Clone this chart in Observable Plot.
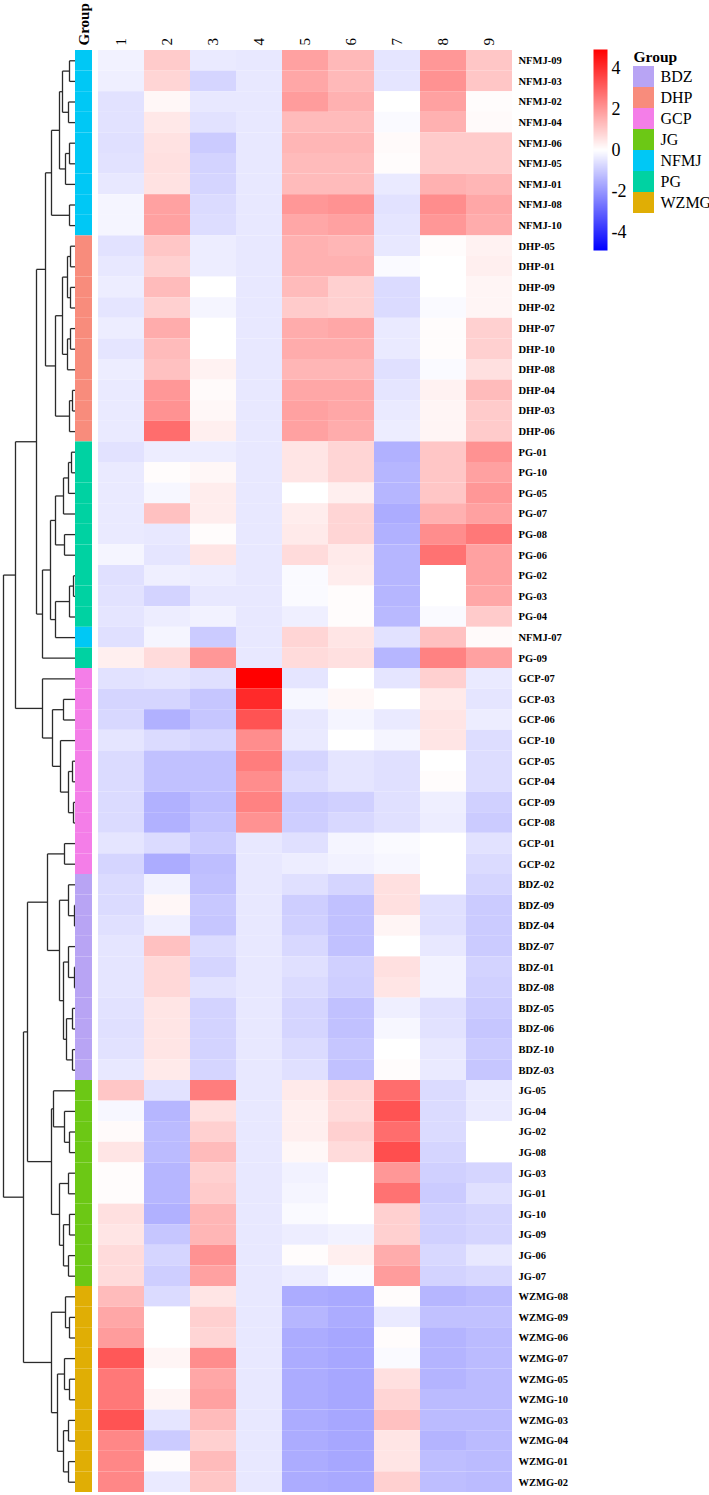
<!DOCTYPE html>
<html>
<head>
<meta charset="utf-8">
<script src="https://cdn.jsdelivr.net/npm/d3@7"></script>
<script src="https://cdn.jsdelivr.net/npm/@observablehq/plot@0.6"></script>
<style>
  body { margin: 0; background: #fff; }
  #chart { position: relative; width: 709px; height: 1495px; font-family: "Liberation Serif", serif; }
  #chart > svg, #chart > figure { position: absolute; top: 0; margin: 0; max-width: none; }
  #chart text { font-family: "Liberation Serif", "Times New Roman", serif; }
</style>
</head>
<body>
<div id="chart"></div>
<script>
// ---- data ---------------------------------------------------------------
const columns = ["1", "2", "3", "4", "5", "6", "7", "8", "9"];

const groupNames = ["BDZ", "DHP", "GCP", "JG", "NFMJ", "PG", "WZMG"];
const groupColors = ["#B8A4F4", "#F88C7C", "#F47EE8", "#6CC815", "#00C8F5", "#00D2A2", "#E0AE05"];

// rows in clustered order, top to bottom
const rowLabels = [
  "NFMJ-09", "NFMJ-03", "NFMJ-02", "NFMJ-04", "NFMJ-06", "NFMJ-05", "NFMJ-01", "NFMJ-08", "NFMJ-10",
  "DHP-05", "DHP-01", "DHP-09", "DHP-02", "DHP-07", "DHP-10", "DHP-08", "DHP-04", "DHP-03", "DHP-06",
  "PG-01", "PG-10", "PG-05", "PG-07", "PG-08", "PG-06", "PG-02", "PG-03", "PG-04", "NFMJ-07", "PG-09",
  "GCP-07", "GCP-03", "GCP-06", "GCP-10", "GCP-05", "GCP-04", "GCP-09", "GCP-08", "GCP-01", "GCP-02",
  "BDZ-02", "BDZ-09", "BDZ-04", "BDZ-07", "BDZ-01", "BDZ-08", "BDZ-05", "BDZ-06", "BDZ-10", "BDZ-03",
  "JG-05", "JG-04", "JG-02", "JG-08", "JG-03", "JG-01", "JG-10", "JG-09", "JG-06", "JG-07",
  "WZMG-08", "WZMG-09", "WZMG-06", "WZMG-07", "WZMG-05", "WZMG-10", "WZMG-03", "WZMG-04", "WZMG-01", "WZMG-02"
];

// scaled values, one row per sample, columns 1..9
const values = [
  [-0.25, 1.0, -0.4, -0.45, 1.8, 1.35, -0.5, 2.0, 1.1],
  [-0.3, 0.8, -0.8, -0.45, 1.7, 1.35, -0.5, 2.1, 1.1],
  [-0.55, 0.15, -0.45, -0.45, 1.9, 1.5, 0.0, 1.8, 0.05],
  [-0.55, 0.45, -0.55, -0.45, 1.3, 1.3, -0.1, 1.5, 0.1],
  [-0.6, 0.55, -1.0, -0.45, 1.4, 1.4, 0.1, 1.0, 1.0],
  [-0.55, 0.6, -0.85, -0.45, 1.3, 1.3, 0.05, 1.0, 1.0],
  [-0.45, 0.55, -0.8, -0.45, 1.3, 1.3, -0.4, 1.5, 1.4],
  [-0.2, 1.8, -0.7, -0.45, 2.0, 2.1, -0.55, 2.2, 1.7],
  [-0.2, 1.8, -0.65, -0.45, 1.7, 1.8, -0.5, 2.0, 1.6],

  [-0.55, 1.1, -0.35, -0.45, 1.5, 1.4, -0.45, 0.05, 0.25],
  [-0.45, 0.9, -0.35, -0.45, 1.5, 1.5, -0.1, 0.0, 0.3],
  [-0.35, 1.3, 0.0, -0.45, 1.3, 0.9, -0.7, 0.0, 0.2],
  [-0.5, 0.9, -0.2, -0.45, 1.0, 0.9, -0.7, -0.1, 0.2],
  [-0.35, 1.6, 0.0, -0.45, 1.6, 1.7, -0.4, 0.05, 0.9],
  [-0.5, 1.3, 0.0, -0.45, 1.6, 1.6, -0.4, 0.05, 0.9],
  [-0.35, 1.2, 0.25, -0.45, 1.4, 1.4, -0.6, -0.1, 0.6],
  [-0.4, 2.0, 0.1, -0.45, 1.7, 1.7, -0.5, 0.25, 1.3],
  [-0.4, 2.1, 0.15, -0.45, 1.8, 1.7, -0.4, 0.2, 1.0],
  [-0.4, 2.8, 0.3, -0.45, 1.8, 1.6, -0.35, 0.2, 1.0],

  [-0.55, -0.35, -0.35, -0.45, 0.5, 0.8, -1.5, 1.1, 2.1],
  [-0.4, 0.05, 0.15, -0.45, 0.5, 0.8, -1.4, 1.1, 1.8],
  [-0.4, -0.15, 0.35, -0.45, 0.0, 0.3, -1.4, 1.1, 2.0],
  [-0.4, 1.2, 0.35, -0.45, 0.35, 0.8, -1.6, 1.5, 1.8],
  [-0.4, -0.45, 0.05, -0.45, 0.4, 0.8, -1.5, 2.2, 2.6],
  [-0.2, -0.5, 0.5, -0.45, 0.7, 0.4, -1.4, 2.7, 1.8],
  [-0.6, -0.3, -0.35, -0.45, -0.1, 0.35, -1.4, 0.0, 1.8],
  [-0.55, -0.85, -0.45, -0.45, -0.1, 0.05, -1.4, 0.0, 1.7],
  [-0.5, -0.35, -0.25, -0.45, -0.3, 0.05, -1.35, -0.1, 1.0],
  [-0.6, -0.2, -1.0, -0.45, 0.8, 0.5, -0.55, 1.2, 0.1],
  [0.3, 0.7, 2.0, -0.45, 0.7, 0.6, -1.4, 2.4, 1.8],

  [-0.55, -0.5, -0.6, 4.9, -0.5, 0.0, -0.5, 0.9, -0.4],
  [-0.8, -0.8, -1.1, 4.1, -0.15, 0.15, 0.0, 0.4, -0.5],
  [-0.75, -1.5, -1.1, 3.3, -0.45, -0.2, -0.4, 0.5, -0.35],
  [-0.5, -0.7, -0.8, 2.2, -0.4, 0.0, -0.2, 0.5, -0.65],
  [-0.7, -1.2, -1.2, 2.5, -0.8, -0.5, -0.6, 0.0, -0.65],
  [-0.7, -1.2, -1.2, 2.2, -0.7, -0.5, -0.6, 0.05, -0.65],
  [-0.7, -1.5, -1.25, 2.4, -1.0, -0.9, -0.6, -0.3, -0.9],
  [-0.7, -1.5, -1.15, 2.1, -0.95, -0.75, -0.6, -0.35, -1.0],
  [-0.5, -0.7, -1.0, -0.45, -0.6, -0.2, -0.1, 0.0, -0.55],
  [-0.8, -1.6, -1.25, -0.45, -0.35, -0.25, -0.15, 0.0, -0.7],

  [-0.7, -0.25, -1.2, -0.45, -0.6, -0.8, 0.6, 0.0, -0.8],
  [-0.7, 0.15, -1.05, -0.45, -0.95, -1.2, 0.6, -0.6, -1.0],
  [-0.6, -0.3, -1.1, -0.45, -0.9, -1.2, 0.2, -0.6, -1.0],
  [-0.5, 1.2, -0.7, -0.45, -0.75, -1.2, 0.0, -0.45, -1.0],
  [-0.5, 0.75, -0.8, -0.45, -0.6, -0.9, 0.6, -0.25, -0.85],
  [-0.5, 0.75, -0.55, -0.45, -0.7, -0.95, 0.5, -0.25, -0.9],
  [-0.55, 0.5, -0.85, -0.45, -0.8, -1.2, -0.3, -0.6, -1.0],
  [-0.6, 0.5, -0.85, -0.45, -0.8, -1.2, -0.15, -0.55, -1.1],
  [-0.55, 0.5, -0.85, -0.45, -0.7, -1.1, 0.0, -0.45, -1.0],
  [-0.45, 0.4, -0.8, -0.45, -0.6, -1.2, 0.05, -0.4, -1.1],

  [1.1, -0.55, 2.5, -0.45, 0.4, 0.75, 2.8, -0.7, -0.4],
  [-0.15, -1.4, 0.6, -0.45, 0.3, 0.7, 3.3, -0.7, -0.4],
  [0.1, -1.3, 0.9, -0.45, 0.3, 0.9, 2.8, -0.7, 0.0],
  [0.5, -1.3, 1.3, -0.45, 0.15, 0.7, 3.4, -0.8, 0.0],
  [0.05, -1.4, 0.9, -0.45, -0.25, 0.0, 2.0, -0.9, -0.8],
  [0.05, -1.4, 1.0, -0.45, -0.2, 0.0, 2.7, -1.0, -0.6],
  [0.6, -1.5, 1.4, -0.45, -0.1, 0.0, 0.9, -0.9, -0.8],
  [0.5, -1.1, 1.4, -0.45, -0.35, -0.25, 0.9, -0.9, -0.8],
  [0.7, -0.8, 2.1, -0.45, 0.05, 0.3, 1.6, -0.75, -0.45],
  [0.7, -0.95, 1.8, -0.45, -0.35, -0.1, 1.9, -0.85, -0.75],

  [1.3, -0.7, 0.5, -0.45, -1.6, -1.65, 0.05, -1.4, -1.3],
  [1.7, 0.0, 0.9, -0.45, -1.4, -1.6, -0.4, -1.2, -1.2],
  [1.9, 0.0, 0.8, -0.45, -1.6, -1.7, 0.05, -1.45, -1.3],
  [3.2, 0.2, 2.2, -0.45, -1.6, -1.7, -0.1, -1.45, -1.3],
  [2.6, 0.0, 1.7, -0.45, -1.6, -1.7, 0.6, -1.45, -1.3],
  [2.6, 0.2, 1.8, -0.45, -1.6, -1.7, 0.8, -1.3, -1.3],
  [3.3, -0.5, 1.3, -0.45, -1.6, -1.7, 1.2, -1.3, -1.3],
  [2.3, -1.0, 0.9, -0.45, -1.6, -1.7, 0.5, -1.45, -1.3],
  [2.3, 0.05, 1.3, -0.45, -1.6, -1.7, 0.5, -1.25, -1.3],
  [2.3, -0.4, 1.1, -0.45, -1.6, -1.65, 0.9, -1.25, -1.3]
];

// row dendrogram: [left, right, merge height]
const rowTree = [
  [
    [
      [
        [
          [[["NFMJ-09", "NFMJ-03", 6], ["NFMJ-02", "NFMJ-04", 7], 13],
           [["NFMJ-06", "NFMJ-05", 6], "NFMJ-01", 10], 16],
          ["NFMJ-08", "NFMJ-10", 6], 24],
        [
          [[["DHP-05", "DHP-01", 5], ["DHP-09", "DHP-02", 5], 8],
           [["DHP-07", "DHP-10", 5], "DHP-08", 8], 13],
          [["DHP-04", "DHP-03", 3], "DHP-06", 6], 20],
        30],
      [
        [
          [[[["PG-01", "PG-10", 4], "PG-05", 7], "PG-07", 12],
           ["PG-08", "PG-06", 11], 20],
          [[["PG-02", "PG-03", 2], "PG-04", 6], "NFMJ-07", 20], 25],
        "PG-09", 33],
      39],
    ["GCP-07",
      [["GCP-03", "GCP-06", 12],
       ["GCP-10", [["GCP-05", "GCP-04", 3], ["GCP-09", "GCP-08", 2], 7], 15], 23],
      33],
    60],
  [
    [
      [["GCP-01", "GCP-02", 11],
       [["BDZ-02", ["BDZ-09", "BDZ-04", 1], 7],
        [["BDZ-07", ["BDZ-01", "BDZ-08", 1], 7],
         [["BDZ-05", "BDZ-06", 3], ["BDZ-10", "BDZ-03", 3], 9], 12], 16],
       28],
      [["JG-05", ["JG-04", ["JG-02", "JG-08", 6], 11], 22],
       [["JG-03", "JG-01", 7], [["JG-10", "JG-09", 6], ["JG-06", "JG-07", 7], 12], 16], 24],
      48],
    [["WZMG-08", ["WZMG-09", "WZMG-06", 6], 10],
     [["WZMG-07", ["WZMG-05", "WZMG-10", 6], 11],
      [["WZMG-03", "WZMG-04", 7], ["WZMG-01", "WZMG-02", 7], 12], 18], 24],
    52],
  72];

const colorLimit = 4.9;
const legendTicks = [-4, -2, 0, 2, 4];

// ---- derived tables ----------------------------------------------------
const groupOf = (label) => label.split("-")[0];
const cells = rowLabels.flatMap((row, i) =>
  columns.map((col, j) => ({row, col, value: values[i][j]}))
);

const rowIndex = new Map(rowLabels.map((d, i) => [d, i]));
const links = [];
function layout(node) {
  if (typeof node === "string") return {h: 0, y: rowIndex.get(node)};
  const [l, r, h] = node;
  const a = layout(l), b = layout(r);
  links.push({x1: a.h, y1: a.y, x2: h, y2: a.y});
  links.push({x1: b.h, y1: b.y, x2: h, y2: b.y});
  links.push({x1: h, y1: a.y, x2: h, y2: b.y});
  return {h, y: (a.y + b.y) / 2};
}
layout(rowTree);

// ---- shared settings ----------------------------------------------------
const H = 1495, TOP = 50, BOTTOM = 3;
const font = "'Liberation Serif', 'Times New Roman', serif";
const valueColor = {
  type: "linear",
  domain: [-colorLimit, 0, colorLimit],
  range: ["#0000ff", "#ffffff", "#ff0000"],
  interpolate: "rgb"
};
const baseStyle = {fontFamily: font, background: "none", overflow: "visible"};
const chart = document.getElementById("chart");
function place(svg, left) {
  svg.style.left = left + "px";
  chart.appendChild(svg);
}

// ---- dendrogram ----------------------------------------------------------
place(Plot.plot({
  width: 75, height: H,
  marginLeft: 3, marginRight: 0, marginTop: TOP, marginBottom: BOTTOM,
  style: baseStyle,
  x: {domain: [0, rowTree[2]], reverse: true, axis: null},
  y: {domain: [-0.5, rowLabels.length - 0.5], reverse: true, axis: null},
  marks: [
    Plot.link(links, {x1: "x1", y1: "y1", x2: "x2", y2: "y2", stroke: "#2b2b2b", strokeWidth: 1.3})
  ]
}), 0);

// ---- group annotation bar ------------------------------------------------
place(Plot.plot({
  width: 17, height: H,
  marginLeft: 0, marginRight: 0, marginTop: TOP, marginBottom: BOTTOM,
  style: baseStyle,
  x: {domain: ["Group"], padding: 0, label: null},
  y: {domain: rowLabels, padding: 0, axis: null},
  color: {domain: groupNames, range: groupColors},
  marks: [
    Plot.cell(rowLabels, {x: () => "Group", y: (d) => d, fill: (d) => groupOf(d)}),
    Plot.axisX({anchor: "top", tickSize: 0, tickPadding: 5, tickRotate: -90,
                fontFamily: font, fontSize: 15, fontWeight: "bold", fill: "#000"})
  ]
}), 75);

// ---- heatmap -------------------------------------------------------------
place(Plot.plot({
  width: 480, height: H,
  marginLeft: 0, marginRight: 60, marginTop: TOP, marginBottom: BOTTOM,
  style: baseStyle,
  x: {domain: columns, padding: 0, label: null},
  y: {domain: rowLabels, padding: 0, label: null},
  color: valueColor,
  marks: [
    Plot.cell(cells, {x: "col", y: "row", fill: "value"}),
    Plot.axisX({anchor: "top", tickSize: 0, tickPadding: 5, tickRotate: -90,
                fontFamily: font, fontSize: 15, fill: "#000"}),
    Plot.axisY({anchor: "right", tickSize: 0, tickPadding: 3,
                fontFamily: font, fontSize: 10.5, fontWeight: "bold", fill: "#000"})
  ]
}), 95);

// ---- colour key ----------------------------------------------------------
place(Plot.plot({
  width: 50, height: 260,
  marginLeft: 3, marginRight: 33, marginTop: 49, marginBottom: 10,
  style: baseStyle,
  x: {domain: [0, 1], axis: null},
  y: {domain: [-colorLimit, colorLimit], label: null},
  color: valueColor,
  marks: [
    Plot.raster({fill: (x, y) => y, x1: 0, x2: 1, y1: -colorLimit, y2: colorLimit, width: 1, height: 300}),
    Plot.axisY({anchor: "right", ticks: legendTicks, tickFormat: (d) => String(d),
                tickSize: 0, tickPadding: 4, fontFamily: font, fontSize: 18, fill: "#000"})
  ]
}), 590);

// ---- group legend --------------------------------------------------------
place(Plot.plot({
  width: 79, height: 215,
  marginLeft: 3, marginRight: 55, marginTop: 65, marginBottom: 2,
  style: baseStyle,
  x: {domain: ["key"], padding: 0, axis: null},
  y: {domain: groupNames, padding: 0, label: null},
  color: {domain: groupNames, range: groupColors},
  marks: [
    Plot.cell(groupNames, {x: () => "key", y: (d) => d, fill: (d) => d}),
    Plot.axisY({anchor: "right", tickSize: 0, tickPadding: 6, fontFamily: font, fontSize: 16, fill: "#000"}),
    Plot.text(["Group"], {frameAnchor: "top-left", textAnchor: "start", lineAnchor: "bottom",
                          dy: -4, fontFamily: font, fontSize: 15.5, fontWeight: "bold", fill: "#000"})
  ]
}), 630);
</script>
</body>
</html>
